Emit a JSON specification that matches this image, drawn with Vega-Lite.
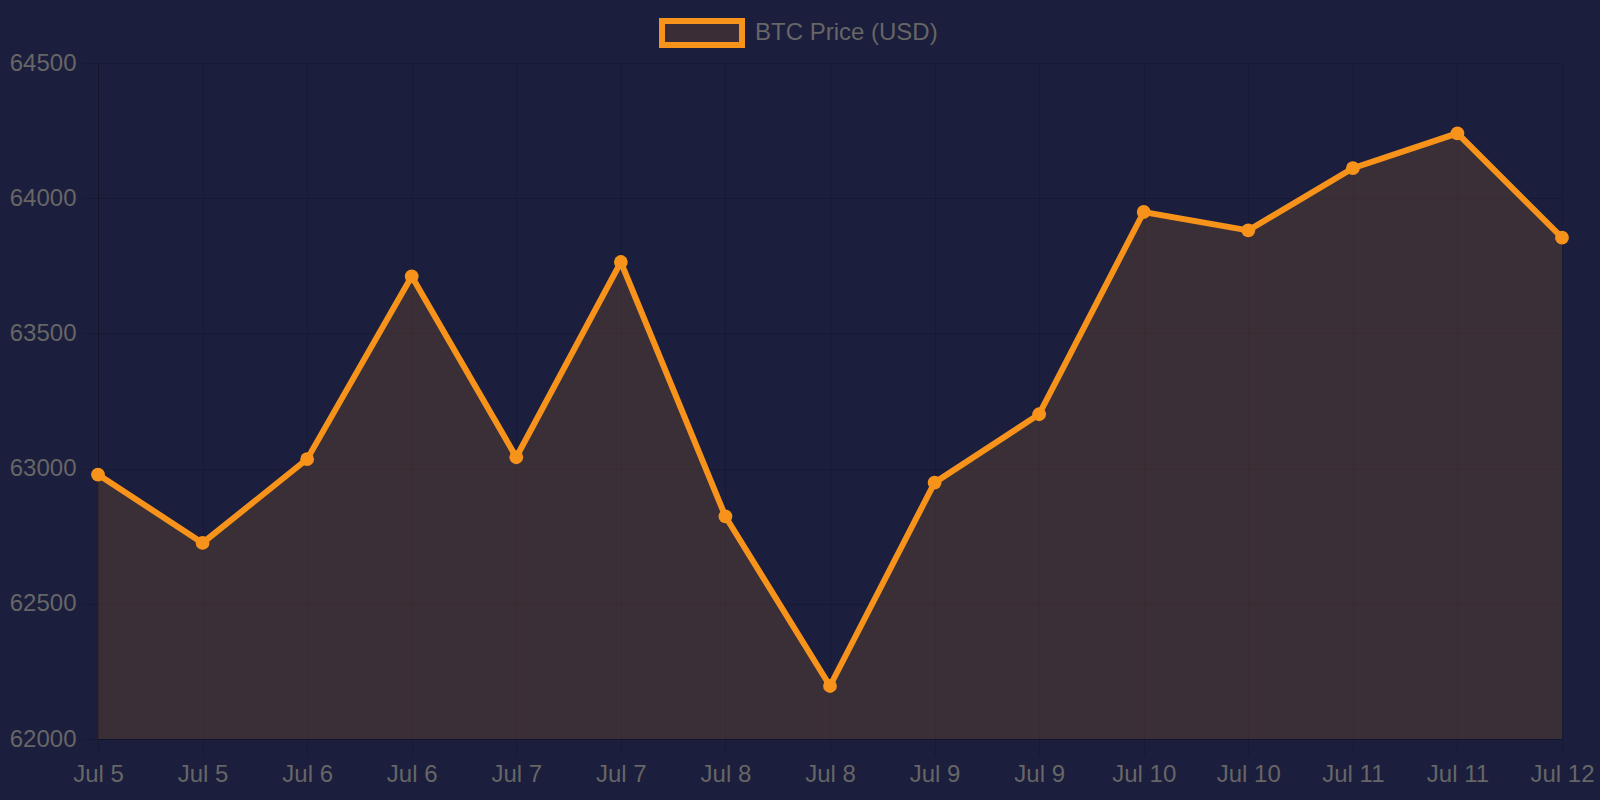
{
  "$schema": "https://vega.github.io/schema/vega-lite/v6.json",
  "autosize": "none",
  "width": 1464,
  "height": 676,
  "padding": {"left": 98, "top": 63, "right": 38, "bottom": 61},
  "background": "#1b1e3c",
  "data": {
    "values": [
      {"time": "2024-07-05T00:00:00", "price": 62978, "series": "BTC Price (USD)"},
      {"time": "2024-07-05T12:00:00", "price": 62725, "series": "BTC Price (USD)"},
      {"time": "2024-07-06T00:00:00", "price": 63035, "series": "BTC Price (USD)"},
      {"time": "2024-07-06T12:00:00", "price": 63711, "series": "BTC Price (USD)"},
      {"time": "2024-07-07T00:00:00", "price": 63042, "series": "BTC Price (USD)"},
      {"time": "2024-07-07T12:00:00", "price": 63764, "series": "BTC Price (USD)"},
      {"time": "2024-07-08T00:00:00", "price": 62823, "series": "BTC Price (USD)"},
      {"time": "2024-07-08T12:00:00", "price": 62196, "series": "BTC Price (USD)"},
      {"time": "2024-07-09T00:00:00", "price": 62948, "series": "BTC Price (USD)"},
      {"time": "2024-07-09T12:00:00", "price": 63201, "series": "BTC Price (USD)"},
      {"time": "2024-07-10T00:00:00", "price": 63949, "series": "BTC Price (USD)"},
      {"time": "2024-07-10T12:00:00", "price": 63881, "series": "BTC Price (USD)"},
      {"time": "2024-07-11T00:00:00", "price": 64111, "series": "BTC Price (USD)"},
      {"time": "2024-07-11T12:00:00", "price": 64240, "series": "BTC Price (USD)"},
      {"time": "2024-07-12T00:00:00", "price": 63854, "series": "BTC Price (USD)"}
    ]
  },
  "encoding": {
    "x": {
      "field": "time",
      "type": "temporal",
      "scale": {"nice": false},
      "axis": {
        "title": null,
        "values": [
          {"year": 2024, "month": 7, "date": 5, "hours": 0},
          {"year": 2024, "month": 7, "date": 5, "hours": 12},
          {"year": 2024, "month": 7, "date": 6, "hours": 0},
          {"year": 2024, "month": 7, "date": 6, "hours": 12},
          {"year": 2024, "month": 7, "date": 7, "hours": 0},
          {"year": 2024, "month": 7, "date": 7, "hours": 12},
          {"year": 2024, "month": 7, "date": 8, "hours": 0},
          {"year": 2024, "month": 7, "date": 8, "hours": 12},
          {"year": 2024, "month": 7, "date": 9, "hours": 0},
          {"year": 2024, "month": 7, "date": 9, "hours": 12},
          {"year": 2024, "month": 7, "date": 10, "hours": 0},
          {"year": 2024, "month": 7, "date": 10, "hours": 12},
          {"year": 2024, "month": 7, "date": 11, "hours": 0},
          {"year": 2024, "month": 7, "date": 11, "hours": 12},
          {"year": 2024, "month": 7, "date": 12, "hours": 0}
        ],
        "format": "%b %-d",
        "labelAngle": 0,
        "labelFlush": false,
        "labelOverlap": false,
        "tickSize": 16,
        "labelPadding": 7
      }
    },
    "y": {
      "field": "price",
      "type": "quantitative",
      "scale": {"domain": [62000, 64500], "nice": false, "zero": false, "clamp": true},
      "axis": {
        "title": null,
        "values": [62000, 62500, 63000, 63500, 64000, 64500],
        "format": "d",
        "tickSize": 16,
        "labelPadding": 6
      }
    }
  },
  "layer": [
    {
      "mark": {"type": "area", "color": "#f7931a", "opacity": 0.15}
    },
    {
      "mark": {"type": "line", "strokeWidth": 6},
      "encoding": {
        "color": {
          "field": "series",
          "type": "nominal",
          "scale": {"range": ["#f7931a"]},
          "legend": {
            "title": null,
            "orient": "none",
            "legendX": 561,
            "legendY": -73,
            "padding": 0,
            "symbolType": "M-1,-0.3H1V0.3H-1Z",
            "symbolSize": 6400,
            "symbolStrokeWidth": 6,
            "symbolStrokeColor": "#f7931a",
            "symbolFillColor": "#3a2d35",
            "labelOffset": 10,
            "labelFont": "Liberation Sans",
            "labelFontSize": 24,
            "labelColor": "#666666",
            "labelLimit": 400
          }
        }
      }
    },
    {
      "mark": {"type": "point", "filled": true, "size": 190, "color": "#f7931a", "opacity": 1}
    }
  ],
  "config": {
    "view": {"stroke": null},
    "axis": {
      "labelFont": "Liberation Sans",
      "labelFontSize": 24,
      "labelColor": "#666666",
      "gridColor": "#000000",
      "gridOpacity": 0.13,
      "tickColor": "#000000",
      "tickOpacity": 0.13,
      "domainColor": "#000000",
      "domainOpacity": 0.2,
      "grid": true
    }
  }
}
